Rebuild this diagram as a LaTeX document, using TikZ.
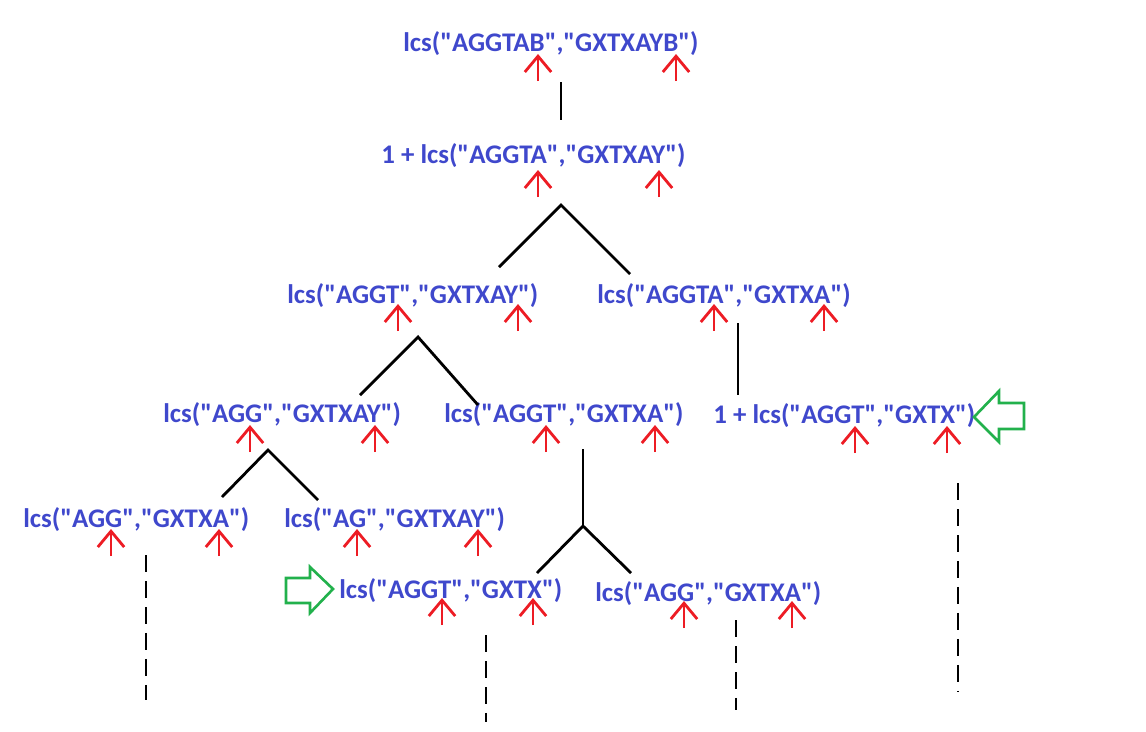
\documentclass[tikz,border=0pt]{standalone}
\usepackage{fontspec}
\setmainfont{Carlito}[Ligatures=TeXOff]
\usetikzlibrary{arrows.meta,positioning}
\definecolor{callblue}{HTML}{3F48CC}
\definecolor{ptrred}{HTML}{ED1C24}
\definecolor{hintgreen}{HTML}{22B14C}

\begin{document}
\begin{tikzpicture}[x=0.02cm, y=-0.02cm,
    call/.style={anchor=base west, inner sep=0pt, text=callblue, font=\fontsize{15.3}{18}\selectfont\bfseries},
    pointer/.style={ptrred, line width=1.6pt, -{Straight Barb[length=9pt, width=15pt]}},
    branch/.style={black, line width=1.6pt},
    pending/.style={black, line width=1.6pt, dash pattern=on 0.34cm off 0.18cm},
    hint/.style={hintgreen, line width=1.5pt, line join=miter}]
    \useasboundingbox (0,0) rectangle (1146,731);

    % Recursive calls
    \node[call] (n1) at (403,51) {lcs("AGGTAB","GXTXAYB")};
    \node[call] (n2) at (381,163) {1 + lcs("AGGTA","GXTXAY")};
    \node[call] (n3a) at (287,303) {lcs("AGGT","GXTXAY")};
    \node[call] (n3b) at (597,303) {lcs("AGGTA","GXTXA")};
    \node[call] (n4a) at (163,422) {lcs("AGG","GXTXAY")};
    \node[call] (n4b) at (444,422) {lcs("AGGT","GXTXA")};
    \node[call] (n4c) at (713,423) {1 + lcs("AGGT","GXTX")};
    \node[call] (n5a) at (23,527) {lcs("AGG","GXTXA")};
    \node[call] (n5b) at (284,527) {lcs("AG","GXTXAY")};
    \node[call] (n6a) at (339,598) {lcs("AGGT","GXTX")};
    \node[call] (n6b) at (595,601) {lcs("AGG","GXTXA")};

    % Branch points
    \coordinate (s1) at (561,82);   \coordinate (t2) at (561,120);
    \coordinate (s2) at (561,205);  \coordinate (t3a) at (499,267);  \coordinate (t3b) at (630,274);
    \coordinate (s3a) at (418,337); \coordinate (t4a) at (360,395);  \coordinate (t4b) at (478,405);
    \coordinate (s3b) at (738,323); \coordinate (t4c) at (738,395);
    \coordinate (s4a) at (268,450); \coordinate (t5a) at (222,497);  \coordinate (t5b) at (318,500);
    \coordinate (s4b) at (583,449); \coordinate (k4b) at (583,526);
    \coordinate (t6a) at (537,573); \coordinate (t6b) at (631,573);
    \coordinate (s4c) at (958,483); \coordinate (e4c) at (958,692);
    \coordinate (s5a) at (146,555); \coordinate (e5a) at (146,700);
    \coordinate (s6a) at (486,635); \coordinate (e6a) at (486,722);
    \coordinate (s6b) at (736,620); \coordinate (e6b) at (736,710);

    % Tree
    \draw[branch] (s1) -- (t2);
    \draw[branch] (t3a) -- (s2) -- (t3b);
    \draw[branch] (t4a) -- (s3a) -- (t4b);
    \draw[branch] (s3b) -- (t4c);
    \draw[branch] (t5a) -- (s4a) -- (t5b);
    \draw[branch] (s4b) -- (k4b);
    \draw[branch] (t6a) -- (k4b) -- (t6b);

    % Calls not expanded
    \draw[pending] (s4c) -- (e4c);
    \draw[pending] (s5a) -- (e5a);
    \draw[pending] (s6a) -- (e6a);
    \draw[pending] (s6b) -- (e6b);

    % Last characters compared
    \foreach \x/\y in {538/81, 676/81, 538/197, 659/197,
                       398/331, 518/331, 714/331, 824/331,
                       250/452, 375/452, 546/452, 655/452, 855/453, 947/453,
                       111/556, 219/556, 357/556, 478/556,
                       442/625, 533/625, 684/628, 792/628}
        \draw[pointer] (\x,\y) -- ++(0,-27);

    % Repeated subproblem
    \draw[hint] (974,417) -- (999,391) -- (999,403) -- (1024,403) -- (1024,429) -- (999,429) -- (999,442) -- cycle;
    \draw[hint] (333,589) -- (310,567) -- (310,578) -- (286,578) -- (286,603) -- (310,603) -- (310,613) -- cycle;
\end{tikzpicture}
\end{document}
